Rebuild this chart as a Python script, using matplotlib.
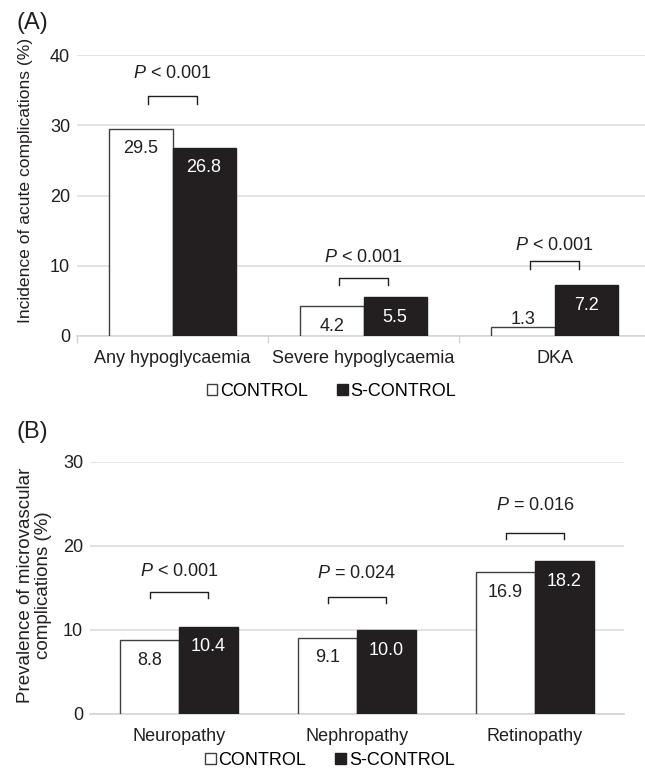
import matplotlib
matplotlib.use("Agg")
import matplotlib.pyplot as plt
import numpy as np

# panel A data
acute_cats = ["Any hypoglycaemia", "Severe hypoglycaemia", "DKA"]
acute_control = [29.5, 4.2, 1.3]
acute_scontrol = [26.8, 5.5, 7.2]
acute_p = ["< 0.001", "< 0.001", "< 0.001"]

# panel B data
micro_cats = ["Neuropathy", "Nephropathy", "Retinopathy"]
micro_control = [8.8, 9.1, 16.9]
micro_scontrol = [10.4, 10.0, 18.2]
micro_p = ["< 0.001", "= 0.024", "= 0.016"]

plt.rcParams["font.family"] = ["Liberation Sans", "DejaVu Sans"]
plt.rcParams["mathtext.fontset"] = "custom"
plt.rcParams["mathtext.it"] = "Liberation Sans:italic"
plt.rcParams["mathtext.rm"] = "Liberation Sans"

FS = 13
DARK = "#231f20"
GRID = "#dedede"

fig = plt.figure(figsize=(6.45, 7.77), dpi=100)
ax1 = fig.add_axes([77 / 645, 1 - 336 / 777, 573 / 645, 281 / 777])
ax2 = fig.add_axes([90 / 645, 1 - 714 / 777, 534 / 645, 252 / 777])


def draw_panel(ax, cats, ctrl, sctrl, pvals, ymax, step, brk, leg, ylab, ypx, ylab_fs):
    x = np.arange(len(cats))
    w = 0.33
    b1 = ax.bar(x - w / 2, ctrl, w, color="white", edgecolor="#404040",
                linewidth=1.0, label="CONTROL", zorder=3)
    b2 = ax.bar(x + w / 2, sctrl, w, color=DARK, edgecolor=DARK,
                linewidth=1.0, label="S-CONTROL", zorder=3)
    # value labels inside the bar tops
    for bars, vals, col in [(b1, ctrl, "#231f20"), (b2, sctrl, "white")]:
        for r, v in zip(bars, vals):
            if v * ypx < 26:
                ax.annotate(f"{v:.1f}", (r.get_x() + r.get_width() / 2, v),
                            xytext=(0, 5), textcoords="offset points",
                            ha="center", va="center", fontsize=FS, color="#231f20")
            else:
                ax.annotate(f"{v:.1f}", (r.get_x() + r.get_width() / 2, v),
                            xytext=(0, -14.5), textcoords="offset points",
                            ha="center", va="center", fontsize=FS, color=col)
    # significance brackets
    for i, (p, (top, leg_y, ty, hw)) in enumerate(zip(pvals, brk)):
        ax.plot([i - hw, i - hw, i + hw, i + hw], [leg_y, top, top, leg_y],
                color="#231f20", lw=1.0, zorder=4, clip_on=False)
        ax.text(i, ty, r"$\it{P}$ " + p, ha="center", va="center",
                fontsize=FS, color="#231f20")
    ax.set_xlim(-0.5, len(cats) - 0.5)
    ax.set_ylim(0, ymax)
    ax.set_yticks(np.arange(0, ymax + 1, step))
    ax.yaxis.grid(True, color=GRID, lw=1.2, zorder=0)
    ax.set_axisbelow(True)
    for s in ["top", "right", "left"]:
        ax.spines[s].set_visible(False)
    ax.spines["bottom"].set_color("#d4d4d4")
    ax.spines["bottom"].set_linewidth(1.2)
    ax.set_xticks(x)
    ax.set_xticklabels(cats, fontsize=FS, color="#231f20")
    ax.tick_params(axis="x", length=0, pad=10)
    ax.tick_params(axis="y", length=0, labelsize=FS, pad=5, labelcolor="#231f20")
    ax.set_ylabel(ylab, fontsize=ylab_fs, color="#231f20", linespacing=1.05)
    ax.legend(loc="center", bbox_to_anchor=leg, ncol=2, frameon=False,
              fontsize=FS, handlelength=0.6, handleheight=0.6,
              handletextpad=0.15, columnspacing=1.6, borderaxespad=0)


draw_panel(ax1, acute_cats, acute_control, acute_scontrol, acute_p, 40, 10,
           [(34.1, 33.0, 37.4, 0.13), (8.25, 7.3, 11.2, 0.13), (10.7, 9.6, 12.9, 0.13)],
           (0.444, -0.197), "Incidence of acute complications (%)", 7.03, 12.6)
# small boundary ticks under the category axis in panel A
ax1.set_xticks([-0.5, 0.5, 1.5, 2.5], minor=True)
ax1.tick_params(axis="x", which="minor", length=5, color="#d4d4d4", width=1)
ax1.yaxis.set_label_coords(-0.077, 0.555)

draw_panel(ax2, micro_cats, micro_control, micro_scontrol, micro_p, 30, 10,
           [(14.5, 13.8, 17.0, 0.165), (13.9, 13.2, 16.7, 0.165), (21.5, 20.8, 24.8, 0.165)],
           (0.449, -0.183), "Prevalence of microvascular\ncomplications (%)", 8.4, 13.5)
ax2.yaxis.set_label_coords(-0.072, 0.51)

fig.text(17 / 645, 1 - 23 / 777, "(A)", fontsize=17, va="center", ha="left", color="#231f20")
fig.text(17 / 645, 1 - 432 / 777, "(B)", fontsize=17, va="center", ha="left", color="#231f20")

fig.savefig("out.png", dpi=100)
